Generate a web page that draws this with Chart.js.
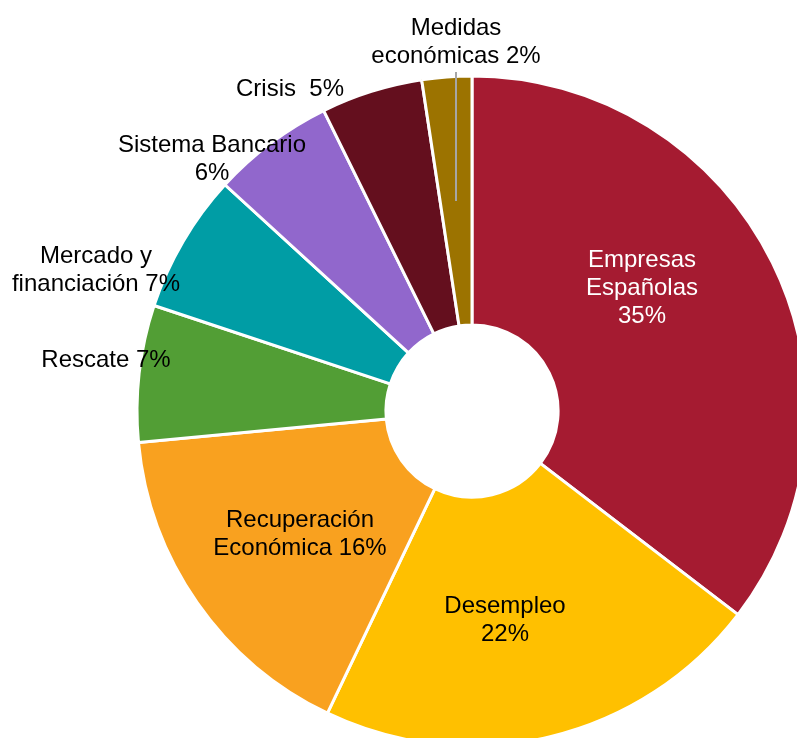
<!DOCTYPE html>
<html>
<head>
<meta charset="utf-8">
<script src="https://cdn.jsdelivr.net/npm/chart.js@4/dist/chart.umd.min.js"></script>
<style>
    html, body { margin: 0; padding: 0; background: #fff; overflow: hidden; }
    #wrap { position: relative; width: 797px; height: 738px; }
</style>
</head>
<body>
<div id="wrap"><canvas id="topicChart"></canvas></div>
<script>
// Data
const categories = ['Empresas Españolas', 'Desempleo', 'Recuperación Económica', 'Rescate',
    'Mercado y financiación', 'Sistema Bancario', 'Crisis', 'Medidas económicas'];
const shares = [35.4, 21.7, 16.4, 6.6, 6.7, 5.9, 4.9, 2.4];
const labelLines = [
    ['Empresas', 'Españolas', '35%'],
    ['Desempleo', '22%'],
    ['Recuperación', 'Económica 16%'],
    ['Rescate 7%'],
    ['Mercado y', 'financiación 7%'],
    ['Sistema Bancario', '6%'],
    ['Crisis  5%'],
    ['Medidas', 'económicas 2%']
];

const sliceColors = ['#A51B31', '#FFC000', '#F9A11F', '#529E35', '#009DA5', '#9167CC', '#640F1E', '#9C7300'];
// label block centre, relative to the doughnut centre
const labelOffsets = [[170, -123], [33, 209], [-172, 123], [-366, -51], [-376, -141], [-260, -252], [-182, -322], [-16, -369]];
const labelColors = ['#fff', '#000', '#000', '#000', '#000', '#000', '#000', '#000'];

const sliceLabels = {
    id: 'sliceLabels',
    afterDatasetsDraw(chart) {
        const ctx = chart.ctx;
        const arcs = chart.getDatasetMeta(0).data;
        const cx = arcs[0].x, cy = arcs[0].y;
        ctx.save();
        // leader line for the small slice
        ctx.strokeStyle = '#A6A6A6';
        ctx.lineWidth = 2;
        ctx.beginPath();
        ctx.moveTo(cx - 16, cy - 339);
        ctx.lineTo(cx - 16, cy - 210);
        ctx.stroke();

        ctx.font = '24px "Liberation Sans", Arial, sans-serif';
        ctx.textAlign = 'center';
        ctx.textBaseline = 'middle';
        const lh = 28;
        labelLines.forEach((lines, i) => {
            const x = cx + labelOffsets[i][0];
            const y0 = cy + labelOffsets[i][1] - (lines.length - 1) * lh / 2;
            ctx.fillStyle = labelColors[i];
            lines.forEach((t, j) => ctx.fillText(t, x, y0 + j * lh));
        });
        ctx.restore();
    }
};

new Chart(document.getElementById('topicChart'), {
    type: 'doughnut',
    data: {
        labels: categories,
        datasets: [{
            data: shares,
            backgroundColor: sliceColors,
            borderColor: '#ffffff',
            borderWidth: 3,
            hoverOffset: 0
        }]
    },
    options: {
        responsive: true,
        maintainAspectRatio: false,
        animation: false,
        radius: 335,
        cutout: '25.7%',
        layout: { padding: { left: 147, top: 84 } },
        plugins: {
            legend: { display: false },
            tooltip: { enabled: false }
        }
    },
    plugins: [sliceLabels]
});
</script>
</body>
</html>
